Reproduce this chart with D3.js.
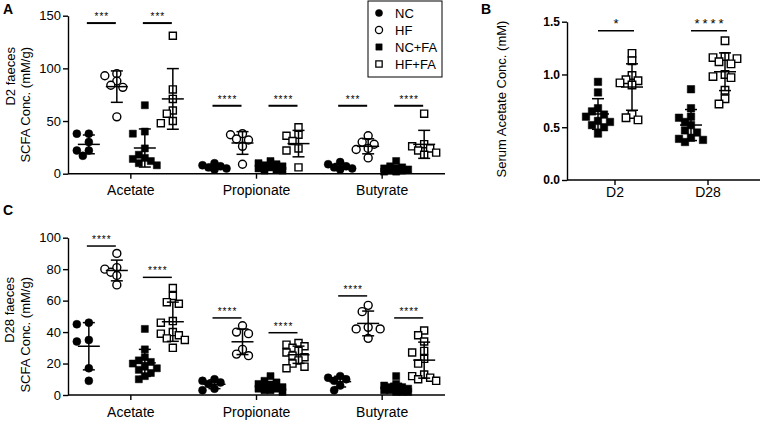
<!DOCTYPE html>
<html>
<head>
<meta charset="utf-8">
<script src="https://cdn.jsdelivr.net/npm/d3@7"></script>
<style>
  body { margin: 0; background: #fff; }
  text { font-family: Arial, "Liberation Sans", sans-serif; }
</style>
</head>
<body>
<svg id="chart" width="760" height="422"></svg>
<script>
const acids = ["Acetate", "Propionate", "Butyrate"];
const groups = ["NC", "HF", "NC+FA", "HF+FA"];
const days = ["D2", "D28"];

// D2 faeces (mM/g), one inner array per acid: Acetate, Propionate, Butyrate
const d2NC = [[38, 38, 30, 22, 22, 17], [10, 8, 7, 6, 5, 4], [11, 9, 7, 6, 5, 4]];
const d2HF = [[95, 93, 88, 84, 82, 54], [38, 37, 33, 32, 26, 9], [36, 30, 28, 24, 23, 15]];
const d2NCFA = [[65, 40, 38, 24, 18, 15, 14, 12, 10, 8], [12, 10, 9, 8, 7, 6, 5, 4, 3, 3], [12, 7, 6, 5, 4, 4, 3, 3, 2, 2]];
const d2HFFA = [[131, 80, 71, 60, 57, 50, 48], [44, 37, 36, 31, 24, 22, 6], [57, 28, 26, 24, 22, 20, 18]];
const d2Stars = [["***", "***"], ["****", "****"], ["***", "****"]];
const d2StarY = [[143, 143], [64.5, 64.5], [64.5, 64.5]];

// D28 faeces (mM/g)
const d28NC = [[46, 45, 35, 34, 17, 9], [10, 9, 8, 7, 4, 3], [12, 11, 10, 9, 6, 3]];
const d28HF = [[90, 81, 80, 78, 76, 70], [44, 40, 39, 29, 26, 25], [57, 53, 43, 42, 42, 36]];
const d28NCFA = [[42, 29, 24, 22, 21, 20, 18, 17, 16, 14, 12, 10], [12, 9, 8, 7, 6, 5, 5, 4, 4, 3, 3, 2], [12, 7, 6, 5, 5, 4, 4, 3, 3, 2, 2, 2]];
const d28HFFA = [[68, 63, 59, 58, 47, 46, 40, 39, 38, 36, 35, 30], [33, 32, 31, 30, 28, 27, 25, 24, 22, 20, 18, 17], [41, 38, 34, 28, 27, 23, 20, 13, 12, 11, 10, 9]];
const d28Stars = [["****", "****"], ["****", "****"], ["****", "****"]];
const d28StarY = [[94.7, 74.8], [49, 39.6], [63, 49]];

// serum acetate (mM), one inner array per day: D2, D28
const serumNCFA = [[0.93, 0.83, 0.68, 0.65, 0.62, 0.60, 0.56, 0.55, 0.52, 0.50, 0.44], [0.86, 0.68, 0.60, 0.59, 0.55, 0.52, 0.47, 0.45, 0.40, 0.39, 0.38, 0.36]];
const serumHFFA = [[1.20, 1.13, 0.99, 0.95, 0.94, 0.92, 0.90, 0.62, 0.59, 0.57], [1.32, 1.17, 1.16, 1.15, 1.12, 1.10, 1.00, 0.98, 0.97, 0.85, 0.77, 0.72]];
const serumStars = ["*", "****"];
const serumStarY = [1.415, 1.415];

const kinds = { "NC": "circle-fill", "HF": "circle-open", "NC+FA": "square-fill", "HF+FA": "square-open" };

const svg = d3.select("#chart");

const markPath = (kind, size) =>
  d3.symbol().type(kind.startsWith("circle") ? d3.symbolCircle : d3.symbolSquare).size(size)();

// simple column scatter: push points sideways when they would sit on each other
function swarm(vals, y, step, minDist) {
  const placed = [];
  const cands = [0, -1, 1, -2, 2].map((k) => k * step);
  return vals.map((v) => {
    const py = y(v);
    let best = 0, bestGap = -1;
    for (const c of cands) {
      const gap = placed.length ? d3.min(placed, (p) => Math.hypot(p.dx - c, p.py - py)) : Infinity;
      if (gap >= minDist) { best = c; break; }
      if (gap > bestGap) { best = c; bestGap = gap; }
    }
    const pt = { v, dx: best, py };
    placed.push(pt);
    return pt;
  });
}

function drawColumn(g, cx, vals, y, kind, size) {
  const pts = swarm(vals, y, 6, 6.5);
  const open = kind.endsWith("open");
  g.append("g")
    .selectAll("path")
    .data(pts)
    .join("path")
    .attr("d", markPath(kind, size))
    .attr("transform", (d) => `translate(${cx + d.dx},${d.py})`)
    .attr("fill", open ? "#fff" : "#000")
    .attr("stroke", "#000")
    .attr("stroke-width", open ? 1.4 : 0.5);

  const m = d3.mean(vals), s = d3.deviation(vals);
  const segs = [
    [cx, y(m - s), cx, y(m + s)],
    [cx - 6, y(m + s), cx + 6, y(m + s)],
    [cx - 6, y(m - s), cx + 6, y(m - s)],
    [cx - 11, y(m), cx + 11, y(m)],
  ];
  g.append("g")
    .selectAll("line")
    .data(segs)
    .join("line")
    .attr("x1", (d) => d[0]).attr("y1", (d) => d[1])
    .attr("x2", (d) => d[2]).attr("y2", (d) => d[3])
    .attr("stroke", "#000")
    .attr("stroke-width", 1.5);
}

function drawSig(g, x1, x2, yv, label, fs, ls, sw) {
  g.append("line")
    .attr("x1", x1).attr("x2", x2).attr("y1", yv).attr("y2", yv)
    .attr("stroke", "#000").attr("stroke-width", sw);
  g.append("text")
    .attr("x", (x1 + x2) / 2 + ls / 2).attr("y", yv - 3)
    .attr("text-anchor", "middle")
    .attr("font-size", fs)
    .attr("letter-spacing", ls)
    .text(label);
}

function drawAxes(x, y, x0, xEnd, yTicks, fmt, tickFont, tickWeight, catPad) {
  const y0 = y.range()[0];
  const gx = svg.append("g")
    .attr("transform", `translate(0,${y0})`)
    .call(d3.axisBottom(x).tickSize(5).tickSizeOuter(0).tickPadding(catPad));
  gx.select(".domain").remove();
  gx.append("line").attr("x1", x0).attr("x2", xEnd).attr("stroke", "#000").attr("stroke-width", 1.4);
  gx.selectAll(".tick line").attr("stroke-width", 1.4);
  gx.selectAll("text").attr("font-size", 14).attr("font-family", "Arial, Liberation Sans").attr("fill", "#000");

  const gy = svg.append("g")
    .attr("transform", `translate(${x0},0)`)
    .call(d3.axisLeft(y).tickValues(yTicks).tickFormat(fmt).tickSize(5).tickSizeOuter(0).tickPadding(2));
  gy.selectAll("path, line").attr("stroke-width", 1.4);
  gy.selectAll("text")
    .attr("font-size", tickFont)
    .attr("font-weight", tickWeight)
    .attr("font-family", "Arial, Liberation Sans")
    .attr("fill", "#000");
}

function faecesPanel(x, y, series, stars, starY, sigWidth) {
  const g = svg.append("g");
  const pos = (acid, i) => x(acid) + x.bandwidth() / 2 + (i - 1.5) * 28;
  acids.forEach((acid, a) => {
    series.forEach((vals, i) => drawColumn(g, pos(acid, i), vals[a], y, kinds[groups[i]], 50));
    drawSig(g, pos(acid, 0) - 2, pos(acid, 1) - 1, y(starY[a][0]), stars[a][0], 10, 1, sigWidth);
    drawSig(g, pos(acid, 2) - 2, pos(acid, 3) - 1, y(starY[a][1]), stars[a][1], 10, 1, sigWidth);
  });
}

// panel A
const xA = d3.scaleBand().domain(acids).range([68, 445]);
const yA = d3.scaleLinear().domain([0, 150]).range([173.7, 15.7]);
drawAxes(xA, yA, 68, 445, [0, 50, 100, 150], d3.format("d"), 13, "normal", 6);
faecesPanel(xA, yA, [d2NC, d2HF, d2NCFA, d2HFFA], d2Stars, d2StarY, 2);

// panel C
const xC = d3.scaleBand().domain(acids).range([68, 445]);
const yC = d3.scaleLinear().domain([0, 100]).range([395, 237.7]);
drawAxes(xC, yC, 68, 445, [0, 20, 40, 60, 80, 100], d3.format("d"), 13, "normal", 7);
faecesPanel(xC, yC, [d28NC, d28HF, d28NCFA, d28HFFA], d28Stars, d28StarY, 1.5);

// panel B
const xB = d3.scaleBand().domain(days).range([568.5, 754.5]);
const yB = d3.scaleLinear().domain([0, 1.5]).range([180, 21.7]);
drawAxes(xB, yB, 567, 760, [0, 0.5, 1.0, 1.5], d3.format(".1f"), 12, "bold", 2);
const gB = svg.append("g");
days.forEach((day, i) => {
  const c = xB(day) + xB.bandwidth() / 2;
  drawColumn(gB, c - 17, serumNCFA[i], yB, "square-fill", 56);
  drawColumn(gB, c + 17, serumHFFA[i], yB, "square-open", 56);
  drawSig(gB, c - 17, c + 19, yB(serumStarY[i]), serumStars[i], 13, 3, 1.5);
});

// axis titles
const vText = (x, y, anchor, label) =>
  svg.append("text")
    .attr("transform", `translate(${x},${y}) rotate(-90)`)
    .attr("text-anchor", anchor)
    .attr("font-size", 13)
    .text(label);
vText(15, 47, "end", "D2 faeces");
vText(30, 47, "end", "SCFA Conc. (mM/g)");
vText(14, 277, "end", "D28 faeces");
vText(30, 277, "end", "SCFA Conc. (mM/g)");
vText(506, 99, "middle", "Serum Acetate Conc. (mM)");

// panel letters
[["A", 3, 13.5], ["B", 481, 13.5], ["C", 3, 215]].forEach(([t, x, y]) =>
  svg.append("text").attr("x", x).attr("y", y).attr("font-size", 14).attr("font-weight", "bold").text(t)
);

// legend
const legend = svg.append("g").attr("transform", "translate(368,1)");
legend.append("rect").attr("width", 74).attr("height", 76)
  .attr("fill", "#fff").attr("stroke", "#000").attr("stroke-width", 1);
const legendRow = d3.scalePoint().domain(groups).range([12, 63]);
groups.forEach((grp) => {
  const kind = kinds[grp];
  const open = kind.endsWith("open");
  legend.append("path")
    .attr("d", markPath(kind, 40))
    .attr("transform", `translate(11,${legendRow(grp)})`)
    .attr("fill", open ? "#fff" : "#000")
    .attr("stroke", "#000")
    .attr("stroke-width", open ? 1.3 : 0.5);
  legend.append("text")
    .attr("x", 27).attr("y", legendRow(grp) + 4.5)
    .attr("font-size", 13)
    .text(grp);
});
</script>
</body>
</html>
